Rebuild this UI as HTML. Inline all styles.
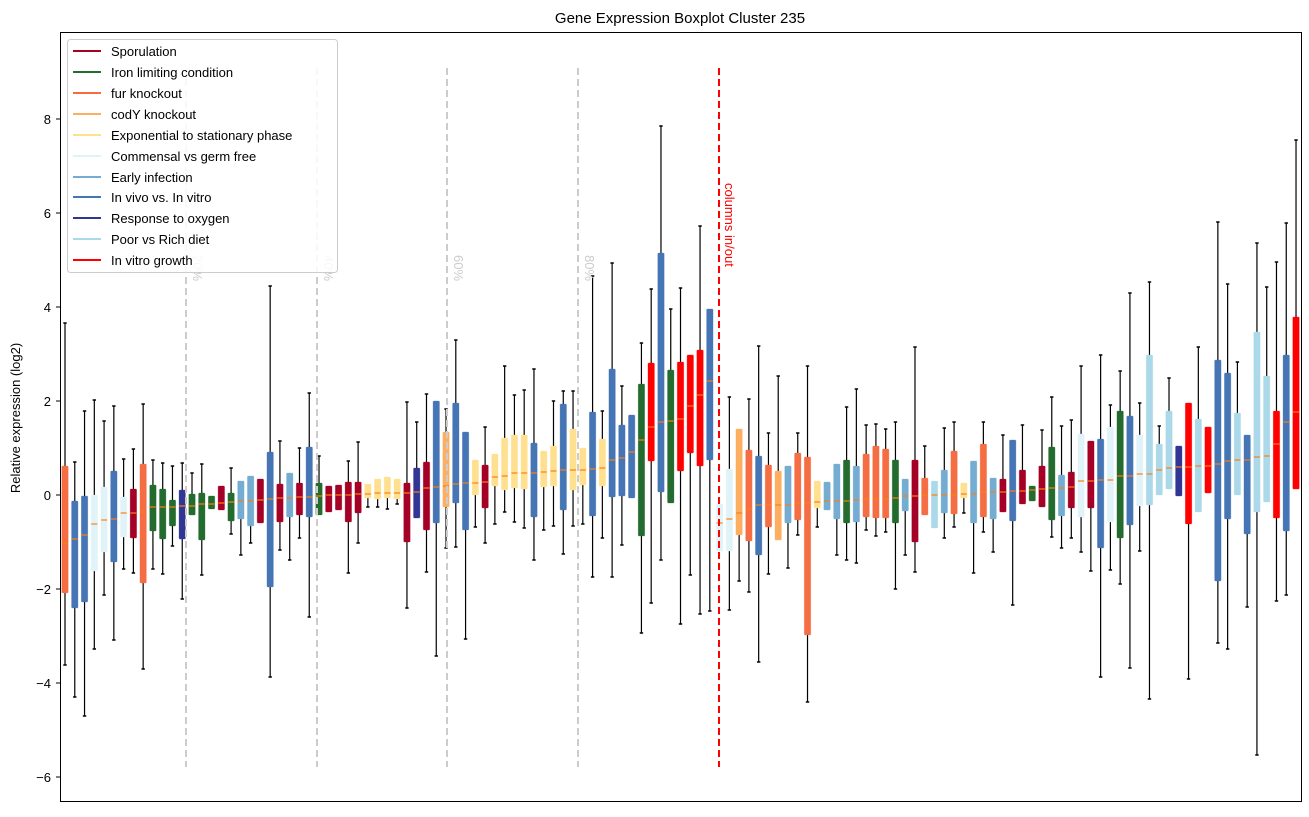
<!DOCTYPE html>
<html><head><meta charset="utf-8"><style>
body{margin:0;background:#fff;width:1309px;height:812px;overflow:hidden;font-family:"Liberation Sans","DejaVu Sans",sans-serif}
</style></head><body>
<svg id="s" width="1309" height="812" xmlns="http://www.w3.org/2000/svg" font-family="Liberation Sans, DejaVu Sans, sans-serif">
<rect width="1309" height="812" fill="#fff"/>
<text x="680" y="23" font-size="15" text-anchor="middle">Gene Expression Boxplot Cluster 235</text>
<text transform="translate(20,418) rotate(-90)" font-size="13" text-anchor="middle">Relative expression (log2)</text>
<g id="plot"></g>
<g stroke="#ccc" stroke-width="2" stroke-dasharray="7,4">
<line x1="186" y1="68" x2="186" y2="767"/><line x1="317" y1="68" x2="317" y2="767"/>
<line x1="447" y1="68" x2="447" y2="767"/><line x1="578" y1="68" x2="578" y2="767"/>
</g>
<g fill="#ccc" font-size="13">
<text transform="translate(193,255) rotate(90)">20%</text>
<text transform="translate(324,255) rotate(90)">40%</text>
<text transform="translate(454,255) rotate(90)">60%</text>
<text transform="translate(585,255) rotate(90)">80%</text>
</g>
<line x1="719" y1="68" x2="719" y2="767" stroke="#f00" stroke-width="2" stroke-dasharray="7,4"/>
<text transform="translate(725,183) rotate(90)" fill="#f00" font-size="13">columns in/out</text>
<rect x="60.5" y="32.5" width="1241" height="769" fill="none" stroke="#000" stroke-width="1"/>
<g font-size="13" text-anchor="end">
<text x="51" y="124">8</text><text x="51" y="218">6</text><text x="51" y="312">4</text><text x="51" y="406">2</text>
<text x="51" y="500">0</text><text x="51" y="594">−2</text><text x="51" y="688">−4</text><text x="51" y="782">−6</text>
</g>
<g stroke="#000"><line x1="56" y1="119" x2="60" y2="119"/><line x1="56" y1="213" x2="60" y2="213"/><line x1="56" y1="307" x2="60" y2="307"/><line x1="56" y1="401" x2="60" y2="401"/><line x1="56" y1="495" x2="60" y2="495"/><line x1="56" y1="589" x2="60" y2="589"/><line x1="56" y1="683" x2="60" y2="683"/><line x1="56" y1="777" x2="60" y2="777"/></g>
<rect x="67.5" y="39.5" width="270" height="233" rx="3" fill="#fff" fill-opacity="0.85" stroke="#ccc"/>
<g stroke-width="2">
<line x1="73" x2="101" y1="51" y2="51" stroke="#a50026"/>
<line x1="73" x2="101" y1="72" y2="72" stroke="#236b2e"/>
<line x1="73" x2="101" y1="93" y2="93" stroke="#f46d43"/>
<line x1="73" x2="101" y1="114" y2="114" stroke="#fdae61"/>
<line x1="73" x2="101" y1="135" y2="135" stroke="#fee090"/>
<line x1="73" x2="101" y1="156" y2="156" stroke="#e0f3f8"/>
<line x1="73" x2="101" y1="177" y2="177" stroke="#74add1"/>
<line x1="73" x2="101" y1="197" y2="197" stroke="#4575b4"/>
<line x1="73" x2="101" y1="218" y2="218" stroke="#313695"/>
<line x1="73" x2="101" y1="239" y2="239" stroke="#abd9e9"/>
<line x1="73" x2="101" y1="260" y2="260" stroke="#ff0000"/>
</g>
<g font-size="13">
<text x="111" y="56">Sporulation</text>
<text x="111" y="77">Iron limiting condition</text>
<text x="111" y="98">fur knockout</text>
<text x="111" y="119">codY knockout</text>
<text x="111" y="140">Exponential to stationary phase</text>
<text x="111" y="161">Commensal vs germ free</text>
<text x="111" y="182">Early infection</text>
<text x="111" y="202">In vivo vs. In vitro</text>
<text x="111" y="223">Response to oxygen</text>
<text x="111" y="244">Poor vs Rich diet</text>
<text x="111" y="265">In vitro growth</text>
</g>
</svg>
<script>
var C={S:'#a50026',I:'#236b2e',F:'#f46d43',C:'#fdae61',E:'#fee090',M:'#e0f3f8',A:'#74add1',V:'#4575b4',O:'#313695',P:'#abd9e9',R:'#ff0000'};
var D=[
['F',323,466,543,593,665],['V',462,501,539,608,697],['V',411,496,535,602,716],['M',400,495,524,571,649],['M',421,487,520,552,595],
['V',406,471,519,562,640],['M',459,497,513,537,569],['S',449,489,513,538,573],['F',404,464,512,583,669],['I',460,485,507,531,569],
['I',463,489,507,539,574],['I',466,500,507,526,546],['O',463,490,506,539,599],['I',473,494,506,515,515],['I',464,493,504,540,575],
['I',496,496,504,509,509],['S',486,486,503,510,510],['I',468,493,502,521,534],['A',481,481,501,519,555],['A',476,476,501,526,543],
['S',479,479,500,523,523],['V',286,452,499,587,677],['S',441,484,498,522,550],['A',473,473,498,517,560],['S',448,483,497,515,538],
['V',393,447,497,517,617],['I',456,483,496,515,515],['S',486,486,495,512,512],['S',485,485,495,510,510],['S',461,482,495,522,573],
['S',442,482,494,513,543],['E',484,484,494,498,507],['E',479,479,493,499,507],['E',477,477,493,498,509],['E',479,479,493,499,504],
['S',402,483,493,542,608],['O',422,468,492,518,518],['S',394,462,488,530,572],['V',401,401,487,523,656],['C',409,432,486,507,548],
['V',340,403,484,503,547],['V',432,432,483,530,639],['E',460,460,483,495,527],['S',427,465,482,508,543],['E',454,454,477,486,524],
['E',366,438,476,490,512],['E',395,435,473,488,522],['E',390,435,473,489,528],['V',369,443,473,517,560],['E',451,451,472,487,530],
['E',401,446,471,486,526],['V',391,404,470,510,554],['E',391,429,470,490,526],['E',448,448,470,485,524],['V',276,412,469,516,577],
['E',411,439,468,486,538],['V',263,369,460,497,577],['V',386,425,458,496,545],['V',415,415,452,498,498],['I',343,384,440,536,633],
['R',289,363,427,461,603],['V',126,253,422,492,560],['I',309,370,421,503,503],['R',288,362,419,471,624],['R',355,355,406,453,575],
['R',226,350,395,466,614],['V',309,309,381,460,611],['M',504,504,523,551,551],['M',397,469,519,551,610],['C',429,429,513,535,581],
['F',399,450,509,541,592],['V',346,456,505,555,662],['F',433,465,505,527,574],['C',376,471,505,540,540],['A',466,466,505,523,568],
['F',433,453,503,520,535],['F',366,457,503,635,702],['E',481,481,502,508,527],['A',482,482,501,510,510],['A',464,464,501,519,555],
['I',407,460,501,523,560],['A',389,466,500,522,563],['F',425,454,499,517,530],['F',424,446,499,518,536],['F',429,449,499,518,532],
['I',422,460,498,523,589],['A',479,479,496,511,555],['S',347,460,496,542,572],['F',446,478,495,515,515],['P',481,481,495,528,528],
['A',428,470,495,513,538],['F',422,451,495,514,527],['E',483,483,494,498,513],['A',461,461,494,523,573],['F',422,444,492,517,532],
['A',478,478,492,519,552],['S',435,479,492,512,512],['V',440,440,491,521,605],['S',425,470,491,504,504],['I',486,486,490,501,501],
['S',430,466,489,507,507],['I',397,447,488,520,537],['A',426,475,488,516,548],['S',420,472,487,508,538],['M',366,434,481,517,552],
['S',441,441,481,508,571],['V',355,439,480,548,677],['M',405,427,480,522,570],['I',371,411,476,538,584],['V',293,416,476,525,668],
['M',403,435,474,506,551],['P',282,355,474,505,699],['P',426,444,470,495,495],['P',378,411,468,489,489],['O',446,446,467,496,496],
['R',403,403,467,524,679],['P',347,419,466,512,512],['R',427,427,466,493,493],['V',222,360,464,581,643],['V',284,373,461,519,649],
['P',362,413,460,495,495],['V',435,435,460,534,607],['P',243,332,457,512,755],['P',287,376,456,502,502],['R',262,411,444,518,601],
['V',223,355,422,531,595],['R',140,317,412,489,489]];
var h='';
D.forEach(function(d,i){var x=65+i*9.77,c=C[d[0]];
 if(d[1]<d[2])h+='<line x1="'+x+'" x2="'+x+'" y1="'+d[1]+'" y2="'+d[2]+'" stroke="#000" stroke-width="1.2"/><line x1="'+(x-1.7)+'" x2="'+(x+1.7)+'" y1="'+d[1]+'" y2="'+d[1]+'" stroke="#000" stroke-width="1.5"/>';
 if(d[5]>d[4])h+='<line x1="'+x+'" x2="'+x+'" y1="'+d[4]+'" y2="'+d[5]+'" stroke="#000" stroke-width="1.2"/><line x1="'+(x-1.7)+'" x2="'+(x+1.7)+'" y1="'+d[5]+'" y2="'+d[5]+'" stroke="#000" stroke-width="1.5"/>';
 h+='<rect x="'+(x-3.2)+'" y="'+d[2]+'" width="6.4" height="'+Math.max(1,d[4]-d[2])+'" rx="1" fill="'+c+'" stroke="'+c+'" stroke-opacity="0.4" stroke-width="0.8"/>';
 h+='<line x1="'+(x-3)+'" x2="'+(x+3)+'" y1="'+d[3]+'" y2="'+d[3]+'" stroke="#ff7f0e" stroke-width="1.2"/>';
});
document.getElementById('plot').innerHTML=h;
</script>
</body></html>
